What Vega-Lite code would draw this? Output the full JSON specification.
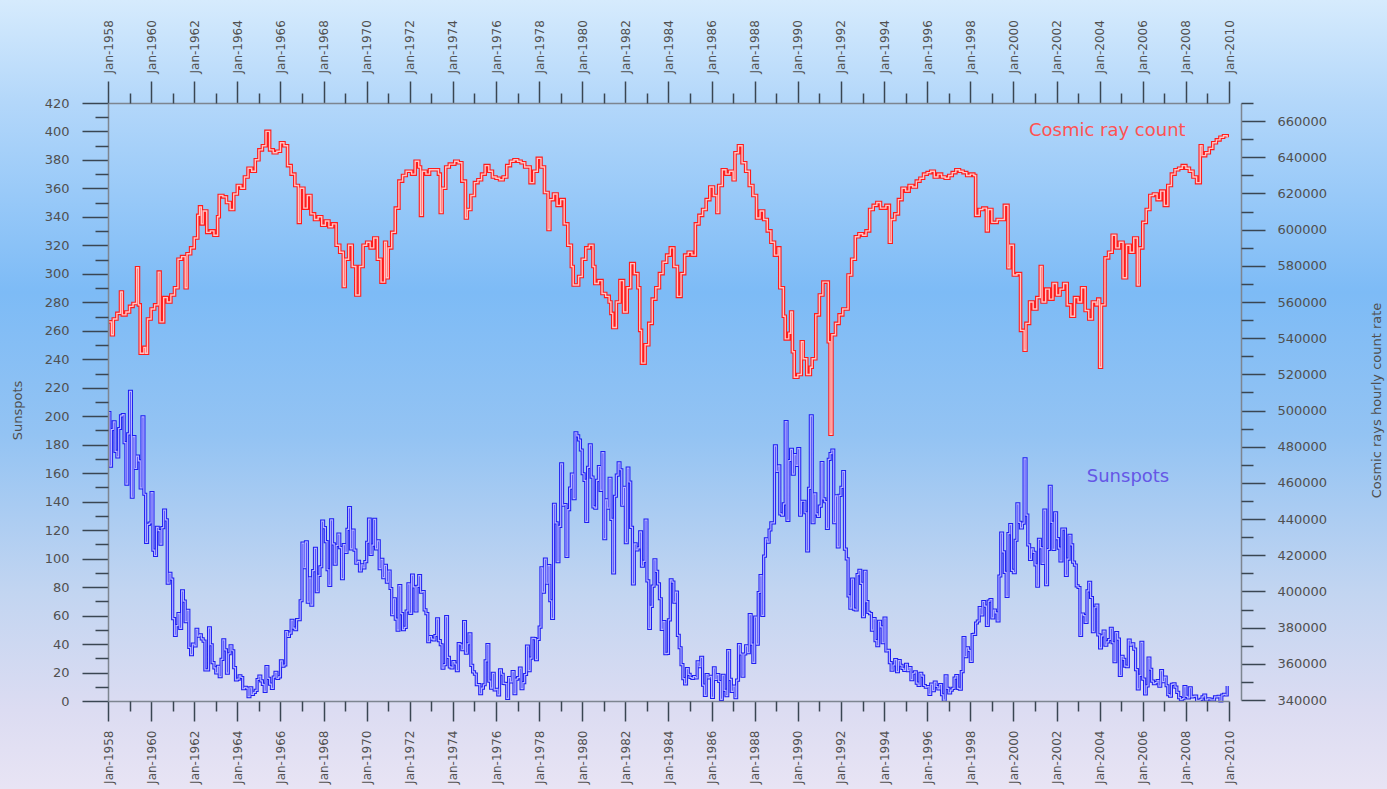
{
  "$schema": "https://vega.github.io/schema/vega-lite/v6.json",
  "width": 1387,
  "height": 789,
  "autosize": {"type": "none"},
  "padding": 0,
  "background": "#e6e4f4",
  "config": {
    "view": {"stroke": null},
    "font": "DejaVu Sans",
    "axis": {
      "zindex": 2,
      "grid": false,
      "labelFont": "DejaVu Sans",
      "labelColor": "#505050",
      "labelFontSize": 12,
      "tickColor": "#3a4652",
      "tickWidth": 1.5,
      "domainColor": "#7d8590",
      "domainWidth": 1.5,
      "labelOverlap": false,
      "labelFlush": false,
      "labelBound": false,
      "titleFont": "DejaVu Sans",
      "titleFontWeight": "normal",
      "titleColor": "#505050",
      "titleFontSize": 13
    }
  },
  "datasets": {
    "sunspots": [
      {"d":"1958-01","v":202.5},{"d":"1958-02","v":164.9},{"d":"1958-03","v":190.7},{"d":"1958-04","v":196.0},{"d":"1958-05","v":175.3},{"d":"1958-06","v":171.5},{"d":"1958-07","v":191.4},{"d":"1958-08","v":200.2},{"d":"1958-09","v":201.2},{"d":"1958-10","v":181.5},{"d":"1958-11","v":152.3},{"d":"1958-12","v":187.6},
      {"d":"1959-01","v":217.4},{"d":"1959-02","v":143.1},{"d":"1959-03","v":185.7},{"d":"1959-04","v":163.3},{"d":"1959-05","v":172.0},{"d":"1959-06","v":168.7},{"d":"1959-07","v":149.6},{"d":"1959-08","v":199.6},{"d":"1959-09","v":145.2},{"d":"1959-10","v":111.4},{"d":"1959-11","v":124.0},{"d":"1959-12","v":125.0},
      {"d":"1960-01","v":146.3},{"d":"1960-02","v":106.0},{"d":"1960-03","v":102.2},{"d":"1960-04","v":122.0},{"d":"1960-05","v":119.6},{"d":"1960-06","v":110.2},{"d":"1960-07","v":121.7},{"d":"1960-08","v":134.1},{"d":"1960-09","v":127.2},{"d":"1960-10","v":82.8},{"d":"1960-11","v":89.6},{"d":"1960-12","v":85.6},
      {"d":"1961-01","v":57.9},{"d":"1961-02","v":46.1},{"d":"1961-03","v":53.0},{"d":"1961-04","v":61.4},{"d":"1961-05","v":51.0},{"d":"1961-06","v":77.4},{"d":"1961-07","v":70.2},{"d":"1961-08","v":55.8},{"d":"1961-09","v":63.6},{"d":"1961-10","v":37.7},{"d":"1961-11","v":32.6},{"d":"1961-12","v":39.9},
      {"d":"1962-01","v":38.7},{"d":"1962-02","v":50.3},{"d":"1962-03","v":45.6},{"d":"1962-04","v":46.4},{"d":"1962-05","v":43.7},{"d":"1962-06","v":42.0},{"d":"1962-07","v":21.8},{"d":"1962-08","v":21.8},{"d":"1962-09","v":51.3},{"d":"1962-10","v":39.5},{"d":"1962-11","v":26.9},{"d":"1962-12","v":23.2},
      {"d":"1963-01","v":19.8},{"d":"1963-02","v":24.4},{"d":"1963-03","v":17.1},{"d":"1963-04","v":29.3},{"d":"1963-05","v":43.0},{"d":"1963-06","v":35.9},{"d":"1963-07","v":19.6},{"d":"1963-08","v":33.2},{"d":"1963-09","v":38.8},{"d":"1963-10","v":35.3},{"d":"1963-11","v":23.4},{"d":"1963-12","v":14.9},
      {"d":"1964-01","v":15.3},{"d":"1964-02","v":17.7},{"d":"1964-03","v":16.5},{"d":"1964-04","v":8.6},{"d":"1964-05","v":9.5},{"d":"1964-06","v":9.1},{"d":"1964-07","v":3.1},{"d":"1964-08","v":9.3},{"d":"1964-09","v":4.7},{"d":"1964-10","v":6.1},{"d":"1964-11","v":7.4},{"d":"1964-12","v":15.1},
      {"d":"1965-01","v":17.5},{"d":"1965-02","v":14.2},{"d":"1965-03","v":11.7},{"d":"1965-04","v":6.8},{"d":"1965-05","v":24.1},{"d":"1965-06","v":15.9},{"d":"1965-07","v":11.9},{"d":"1965-08","v":8.9},{"d":"1965-09","v":16.8},{"d":"1965-10","v":20.1},{"d":"1965-11","v":15.8},{"d":"1965-12","v":17.0},
      {"d":"1966-01","v":28.2},{"d":"1966-02","v":24.4},{"d":"1966-03","v":25.3},{"d":"1966-04","v":48.7},{"d":"1966-05","v":45.3},{"d":"1966-06","v":47.7},{"d":"1966-07","v":56.7},{"d":"1966-08","v":51.2},{"d":"1966-09","v":50.2},{"d":"1966-10","v":57.2},{"d":"1966-11","v":57.2},{"d":"1966-12","v":70.4},
      {"d":"1967-01","v":110.9},{"d":"1967-02","v":93.6},{"d":"1967-03","v":111.8},{"d":"1967-04","v":69.5},{"d":"1967-05","v":86.5},{"d":"1967-06","v":67.3},{"d":"1967-07","v":91.5},{"d":"1967-08","v":107.2},{"d":"1967-09","v":76.8},{"d":"1967-10","v":88.2},{"d":"1967-11","v":94.3},{"d":"1967-12","v":126.4},
      {"d":"1968-01","v":121.8},{"d":"1968-02","v":111.9},{"d":"1968-03","v":92.2},{"d":"1968-04","v":81.2},{"d":"1968-05","v":127.2},{"d":"1968-06","v":110.3},{"d":"1968-07","v":96.1},{"d":"1968-08","v":109.3},{"d":"1968-09","v":117.2},{"d":"1968-10","v":107.7},{"d":"1968-11","v":86.0},{"d":"1968-12","v":109.8},
      {"d":"1969-01","v":104.4},{"d":"1969-02","v":120.5},{"d":"1969-03","v":135.8},{"d":"1969-04","v":106.8},{"d":"1969-05","v":120.0},{"d":"1969-06","v":106.0},{"d":"1969-07","v":96.8},{"d":"1969-08","v":98.0},{"d":"1969-09","v":91.3},{"d":"1969-10","v":95.7},{"d":"1969-11","v":93.5},{"d":"1969-12","v":97.9},
      {"d":"1970-01","v":111.5},{"d":"1970-02","v":127.8},{"d":"1970-03","v":102.9},{"d":"1970-04","v":109.5},{"d":"1970-05","v":127.5},{"d":"1970-06","v":106.8},{"d":"1970-07","v":112.5},{"d":"1970-08","v":93.0},{"d":"1970-09","v":99.5},{"d":"1970-10","v":86.6},{"d":"1970-11","v":95.2},{"d":"1970-12","v":83.5},
      {"d":"1971-01","v":91.3},{"d":"1971-02","v":79.0},{"d":"1971-03","v":60.7},{"d":"1971-04","v":71.8},{"d":"1971-05","v":57.5},{"d":"1971-06","v":49.8},{"d":"1971-07","v":81.0},{"d":"1971-08","v":61.4},{"d":"1971-09","v":50.2},{"d":"1971-10","v":51.7},{"d":"1971-11","v":63.2},{"d":"1971-12","v":82.2},
      {"d":"1972-01","v":61.5},{"d":"1972-02","v":88.4},{"d":"1972-03","v":80.1},{"d":"1972-04","v":63.2},{"d":"1972-05","v":80.5},{"d":"1972-06","v":88.0},{"d":"1972-07","v":76.5},{"d":"1972-08","v":76.8},{"d":"1972-09","v":64.0},{"d":"1972-10","v":61.3},{"d":"1972-11","v":41.6},{"d":"1972-12","v":45.3},
      {"d":"1973-01","v":43.4},{"d":"1973-02","v":42.9},{"d":"1973-03","v":46.0},{"d":"1973-04","v":57.7},{"d":"1973-05","v":42.4},{"d":"1973-06","v":39.5},{"d":"1973-07","v":23.1},{"d":"1973-08","v":25.6},{"d":"1973-09","v":59.3},{"d":"1973-10","v":30.7},{"d":"1973-11","v":23.9},{"d":"1973-12","v":23.3},
      {"d":"1974-01","v":27.6},{"d":"1974-02","v":26.0},{"d":"1974-03","v":21.3},{"d":"1974-04","v":40.3},{"d":"1974-05","v":39.5},{"d":"1974-06","v":36.0},{"d":"1974-07","v":55.8},{"d":"1974-08","v":33.6},{"d":"1974-09","v":40.2},{"d":"1974-10","v":47.1},{"d":"1974-11","v":25.0},{"d":"1974-12","v":20.5},
      {"d":"1975-01","v":18.9},{"d":"1975-02","v":11.5},{"d":"1975-03","v":11.5},{"d":"1975-04","v":5.1},{"d":"1975-05","v":9.0},{"d":"1975-06","v":11.4},{"d":"1975-07","v":28.2},{"d":"1975-08","v":39.7},{"d":"1975-09","v":13.9},{"d":"1975-10","v":9.1},{"d":"1975-11","v":19.4},{"d":"1975-12","v":7.8},
      {"d":"1976-01","v":8.1},{"d":"1976-02","v":4.3},{"d":"1976-03","v":21.9},{"d":"1976-04","v":18.8},{"d":"1976-05","v":12.4},{"d":"1976-06","v":12.2},{"d":"1976-07","v":1.9},{"d":"1976-08","v":16.4},{"d":"1976-09","v":13.5},{"d":"1976-10","v":20.6},{"d":"1976-11","v":5.2},{"d":"1976-12","v":15.3},
      {"d":"1977-01","v":16.4},{"d":"1977-02","v":23.1},{"d":"1977-03","v":8.7},{"d":"1977-04","v":12.9},{"d":"1977-05","v":18.6},{"d":"1977-06","v":38.5},{"d":"1977-07","v":21.4},{"d":"1977-08","v":30.1},{"d":"1977-09","v":44.0},{"d":"1977-10","v":43.8},{"d":"1977-11","v":29.1},{"d":"1977-12","v":43.2},
      {"d":"1978-01","v":51.9},{"d":"1978-02","v":93.6},{"d":"1978-03","v":76.5},{"d":"1978-04","v":99.7},{"d":"1978-05","v":82.7},{"d":"1978-06","v":95.1},{"d":"1978-07","v":70.4},{"d":"1978-08","v":58.1},{"d":"1978-09","v":138.2},{"d":"1978-10","v":125.1},{"d":"1978-11","v":97.9},{"d":"1978-12","v":122.7},
      {"d":"1979-01","v":166.6},{"d":"1979-02","v":137.5},{"d":"1979-03","v":138.0},{"d":"1979-04","v":101.5},{"d":"1979-05","v":134.4},{"d":"1979-06","v":149.5},{"d":"1979-07","v":159.4},{"d":"1979-08","v":142.2},{"d":"1979-09","v":188.4},{"d":"1979-10","v":186.2},{"d":"1979-11","v":183.3},{"d":"1979-12","v":176.3},
      {"d":"1980-01","v":159.6},{"d":"1980-02","v":155.0},{"d":"1980-03","v":126.2},{"d":"1980-04","v":164.1},{"d":"1980-05","v":179.9},{"d":"1980-06","v":157.3},{"d":"1980-07","v":136.3},{"d":"1980-08","v":135.4},{"d":"1980-09","v":155.0},{"d":"1980-10","v":164.7},{"d":"1980-11","v":147.9},{"d":"1980-12","v":174.4},
      {"d":"1981-01","v":114.0},{"d":"1981-02","v":141.3},{"d":"1981-03","v":135.5},{"d":"1981-04","v":156.4},{"d":"1981-05","v":127.5},{"d":"1981-06","v":90.0},{"d":"1981-07","v":143.8},{"d":"1981-08","v":158.7},{"d":"1981-09","v":167.3},{"d":"1981-10","v":162.4},{"d":"1981-11","v":137.5},{"d":"1981-12","v":150.1},
      {"d":"1982-01","v":111.2},{"d":"1982-02","v":163.6},{"d":"1982-03","v":153.8},{"d":"1982-04","v":122.0},{"d":"1982-05","v":82.2},{"d":"1982-06","v":110.4},{"d":"1982-07","v":106.1},{"d":"1982-08","v":107.6},{"d":"1982-09","v":118.8},{"d":"1982-10","v":94.7},{"d":"1982-11","v":98.1},{"d":"1982-12","v":127.0},
      {"d":"1983-01","v":84.3},{"d":"1983-02","v":51.0},{"d":"1983-03","v":66.5},{"d":"1983-04","v":80.7},{"d":"1983-05","v":99.2},{"d":"1983-06","v":91.1},{"d":"1983-07","v":82.2},{"d":"1983-08","v":71.8},{"d":"1983-09","v":50.3},{"d":"1983-10","v":55.8},{"d":"1983-11","v":33.3},{"d":"1983-12","v":33.4},
      {"d":"1984-01","v":57.0},{"d":"1984-02","v":85.1},{"d":"1984-03","v":83.5},{"d":"1984-04","v":69.4},{"d":"1984-05","v":76.4},{"d":"1984-06","v":46.1},{"d":"1984-07","v":37.4},{"d":"1984-08","v":25.5},{"d":"1984-09","v":15.7},{"d":"1984-10","v":12.0},{"d":"1984-11","v":22.8},{"d":"1984-12","v":18.7},
      {"d":"1985-01","v":16.5},{"d":"1985-02","v":15.9},{"d":"1985-03","v":17.2},{"d":"1985-04","v":16.2},{"d":"1985-05","v":27.5},{"d":"1985-06","v":24.2},{"d":"1985-07","v":30.7},{"d":"1985-08","v":11.1},{"d":"1985-09","v":3.9},{"d":"1985-10","v":18.6},{"d":"1985-11","v":16.2},{"d":"1985-12","v":17.3},
      {"d":"1986-01","v":2.5},{"d":"1986-02","v":23.2},{"d":"1986-03","v":15.1},{"d":"1986-04","v":18.5},{"d":"1986-05","v":13.7},{"d":"1986-06","v":1.1},{"d":"1986-07","v":18.1},{"d":"1986-08","v":7.4},{"d":"1986-09","v":3.8},{"d":"1986-10","v":35.4},{"d":"1986-11","v":15.2},{"d":"1986-12","v":6.8},
      {"d":"1987-01","v":10.4},{"d":"1987-02","v":2.4},{"d":"1987-03","v":14.7},{"d":"1987-04","v":39.6},{"d":"1987-05","v":33.0},{"d":"1987-06","v":17.4},{"d":"1987-07","v":33.0},{"d":"1987-08","v":38.7},{"d":"1987-09","v":33.9},{"d":"1987-10","v":60.6},{"d":"1987-11","v":39.9},{"d":"1987-12","v":27.1},
      {"d":"1988-01","v":59.0},{"d":"1988-02","v":40.0},{"d":"1988-03","v":76.2},{"d":"1988-04","v":88.0},{"d":"1988-05","v":60.1},{"d":"1988-06","v":101.8},{"d":"1988-07","v":113.8},{"d":"1988-08","v":111.6},{"d":"1988-09","v":120.1},{"d":"1988-10","v":125.1},{"d":"1988-11","v":125.1},{"d":"1988-12","v":179.2},
      {"d":"1989-01","v":161.3},{"d":"1989-02","v":165.1},{"d":"1989-03","v":131.4},{"d":"1989-04","v":130.6},{"d":"1989-05","v":138.5},{"d":"1989-06","v":196.2},{"d":"1989-07","v":126.9},{"d":"1989-08","v":168.9},{"d":"1989-09","v":176.7},{"d":"1989-10","v":159.4},{"d":"1989-11","v":173.0},{"d":"1989-12","v":165.5},
      {"d":"1990-01","v":177.3},{"d":"1990-02","v":130.5},{"d":"1990-03","v":140.3},{"d":"1990-04","v":140.3},{"d":"1990-05","v":132.2},{"d":"1990-06","v":105.4},{"d":"1990-07","v":149.4},{"d":"1990-08","v":200.3},{"d":"1990-09","v":125.2},{"d":"1990-10","v":145.5},{"d":"1990-11","v":131.4},{"d":"1990-12","v":129.7},
      {"d":"1991-01","v":136.9},{"d":"1991-02","v":167.5},{"d":"1991-03","v":141.9},{"d":"1991-04","v":140.0},{"d":"1991-05","v":121.3},{"d":"1991-06","v":169.7},{"d":"1991-07","v":173.7},{"d":"1991-08","v":176.3},{"d":"1991-09","v":125.3},{"d":"1991-10","v":144.1},{"d":"1991-11","v":108.2},{"d":"1991-12","v":144.4},
      {"d":"1992-01","v":150.0},{"d":"1992-02","v":161.1},{"d":"1992-03","v":106.7},{"d":"1992-04","v":99.8},{"d":"1992-05","v":73.8},{"d":"1992-06","v":65.2},{"d":"1992-07","v":85.7},{"d":"1992-08","v":64.5},{"d":"1992-09","v":63.9},{"d":"1992-10","v":88.7},{"d":"1992-11","v":91.8},{"d":"1992-12","v":82.6},
      {"d":"1993-01","v":59.3},{"d":"1993-02","v":91.0},{"d":"1993-03","v":69.8},{"d":"1993-04","v":62.2},{"d":"1993-05","v":61.3},{"d":"1993-06","v":49.8},{"d":"1993-07","v":57.9},{"d":"1993-08","v":42.4},{"d":"1993-09","v":38.8},{"d":"1993-10","v":56.0},{"d":"1993-11","v":52.0},{"d":"1993-12","v":40.9},
      {"d":"1994-01","v":58.3},{"d":"1994-02","v":35.1},{"d":"1994-03","v":35.6},{"d":"1994-04","v":26.9},{"d":"1994-05","v":21.6},{"d":"1994-06","v":25.3},{"d":"1994-07","v":29.0},{"d":"1994-08","v":20.6},{"d":"1994-09","v":28.4},{"d":"1994-10","v":25.1},{"d":"1994-11","v":22.9},{"d":"1994-12","v":21.5},
      {"d":"1995-01","v":25.8},{"d":"1995-02","v":21.4},{"d":"1995-03","v":23.5},{"d":"1995-04","v":15.0},{"d":"1995-05","v":19.5},{"d":"1995-06","v":20.4},{"d":"1995-07","v":12.6},{"d":"1995-08","v":11.0},{"d":"1995-09","v":19.4},{"d":"1995-10","v":17.5},{"d":"1995-11","v":10.9},{"d":"1995-12","v":9.8},
      {"d":"1996-01","v":10.2},{"d":"1996-02","v":4.6},{"d":"1996-03","v":11.9},{"d":"1996-04","v":7.3},{"d":"1996-05","v":13.2},{"d":"1996-06","v":10.2},{"d":"1996-07","v":8.5},{"d":"1996-08","v":11.6},{"d":"1996-09","v":4.4},{"d":"1996-10","v":0.6},{"d":"1996-11","v":17.6},{"d":"1996-12","v":8.8},
      {"d":"1997-01","v":5.7},{"d":"1997-02","v":7.6},{"d":"1997-03","v":8.8},{"d":"1997-04","v":16.1},{"d":"1997-05","v":17.9},{"d":"1997-06","v":8.8},{"d":"1997-07","v":8.4},{"d":"1997-08","v":20.7},{"d":"1997-09","v":44.6},{"d":"1997-10","v":31.1},{"d":"1997-11","v":37.3},{"d":"1997-12","v":35.6},
      {"d":"1998-01","v":27.8},{"d":"1998-02","v":46.7},{"d":"1998-03","v":46.8},{"d":"1998-04","v":54.8},{"d":"1998-05","v":56.2},{"d":"1998-06","v":65.6},{"d":"1998-07","v":60.5},{"d":"1998-08","v":69.9},{"d":"1998-09","v":66.7},{"d":"1998-10","v":53.1},{"d":"1998-11","v":70.1},{"d":"1998-12","v":71.3},
      {"d":"1999-01","v":58.4},{"d":"1999-02","v":63.9},{"d":"1999-03","v":61.9},{"d":"1999-04","v":56.2},{"d":"1999-05","v":87.8},{"d":"1999-06","v":118.0},{"d":"1999-07","v":104.7},{"d":"1999-08","v":90.4},{"d":"1999-09","v":73.5},{"d":"1999-10","v":117.6},{"d":"1999-11","v":123.9},{"d":"1999-12","v":91.8},
      {"d":"2000-01","v":90.1},{"d":"2000-02","v":112.9},{"d":"2000-03","v":138.5},{"d":"2000-04","v":125.5},{"d":"2000-05","v":121.6},{"d":"2000-06","v":124.9},{"d":"2000-07","v":170.1},{"d":"2000-08","v":130.5},{"d":"2000-09","v":109.7},{"d":"2000-10","v":99.4},{"d":"2000-11","v":106.8},{"d":"2000-12","v":104.4},
      {"d":"2001-01","v":95.6},{"d":"2001-02","v":80.6},{"d":"2001-03","v":113.5},{"d":"2001-04","v":107.7},{"d":"2001-05","v":96.6},{"d":"2001-06","v":134.0},{"d":"2001-07","v":81.8},{"d":"2001-08","v":106.4},{"d":"2001-09","v":150.7},{"d":"2001-10","v":125.5},{"d":"2001-11","v":106.5},{"d":"2001-12","v":132.2},
      {"d":"2002-01","v":114.1},{"d":"2002-02","v":107.4},{"d":"2002-03","v":98.4},{"d":"2002-04","v":120.7},{"d":"2002-05","v":120.8},{"d":"2002-06","v":88.3},{"d":"2002-07","v":99.6},{"d":"2002-08","v":116.4},{"d":"2002-09","v":109.6},{"d":"2002-10","v":97.5},{"d":"2002-11","v":95.5},{"d":"2002-12","v":80.8},
      {"d":"2003-01","v":79.7},{"d":"2003-02","v":46.0},{"d":"2003-03","v":61.1},{"d":"2003-04","v":60.0},{"d":"2003-05","v":55.2},{"d":"2003-06","v":77.4},{"d":"2003-07","v":83.3},{"d":"2003-08","v":72.7},{"d":"2003-09","v":48.7},{"d":"2003-10","v":65.5},{"d":"2003-11","v":67.3},{"d":"2003-12","v":46.5},
      {"d":"2004-01","v":37.3},{"d":"2004-02","v":45.8},{"d":"2004-03","v":49.1},{"d":"2004-04","v":39.3},{"d":"2004-05","v":41.5},{"d":"2004-06","v":43.2},{"d":"2004-07","v":51.1},{"d":"2004-08","v":40.9},{"d":"2004-09","v":27.7},{"d":"2004-10","v":48.0},{"d":"2004-11","v":43.5},{"d":"2004-12","v":17.9},
      {"d":"2005-01","v":31.3},{"d":"2005-02","v":29.2},{"d":"2005-03","v":24.5},{"d":"2005-04","v":24.2},{"d":"2005-05","v":42.7},{"d":"2005-06","v":39.3},{"d":"2005-07","v":40.1},{"d":"2005-08","v":36.4},{"d":"2005-09","v":22.1},{"d":"2005-10","v":8.5},{"d":"2005-11","v":18.0},{"d":"2005-12","v":41.2},
      {"d":"2006-01","v":15.3},{"d":"2006-02","v":4.9},{"d":"2006-03","v":10.6},{"d":"2006-04","v":30.2},{"d":"2006-05","v":22.3},{"d":"2006-06","v":13.9},{"d":"2006-07","v":12.2},{"d":"2006-08","v":12.9},{"d":"2006-09","v":14.4},{"d":"2006-10","v":10.5},{"d":"2006-11","v":21.4},{"d":"2006-12","v":13.6},
      {"d":"2007-01","v":16.8},{"d":"2007-02","v":10.7},{"d":"2007-03","v":4.5},{"d":"2007-04","v":3.4},{"d":"2007-05","v":11.7},{"d":"2007-06","v":12.1},{"d":"2007-07","v":9.7},{"d":"2007-08","v":6.0},{"d":"2007-09","v":2.4},{"d":"2007-10","v":0.9},{"d":"2007-11","v":1.7},{"d":"2007-12","v":10.1},
      {"d":"2008-01","v":3.3},{"d":"2008-02","v":2.1},{"d":"2008-03","v":9.3},{"d":"2008-04","v":2.9},{"d":"2008-05","v":3.2},{"d":"2008-06","v":3.4},{"d":"2008-07","v":0.5},{"d":"2008-08","v":0.5},{"d":"2008-09","v":1.1},{"d":"2008-10","v":2.9},{"d":"2008-11","v":4.1},{"d":"2008-12","v":0.8},
      {"d":"2009-01","v":1.5},{"d":"2009-02","v":1.4},{"d":"2009-03","v":0.7},{"d":"2009-04","v":0.8},{"d":"2009-05","v":2.9},{"d":"2009-06","v":2.9},{"d":"2009-07","v":3.2},{"d":"2009-08","v":0.0},{"d":"2009-09","v":4.2},{"d":"2009-10","v":4.6},{"d":"2009-11","v":4.2},{"d":"2009-12","v":10.6}
    ],
    "cosmic": [
      {"d":"1958-01","v":549000},{"d":"1958-03","v":541900},{"d":"1958-04","v":550600},{"d":"1958-06","v":553700},{"d":"1958-08","v":565500},{"d":"1958-09","v":552900},{"d":"1958-11","v":554500},
      {"d":"1959-01","v":557600},{"d":"1959-03","v":559200},{"d":"1959-05","v":578900},{"d":"1959-06","v":558400},{"d":"1959-07","v":531700},{"d":"1959-09","v":534900},{"d":"1959-10","v":531700},{"d":"1959-11","v":550600},
      {"d":"1960-01","v":556100},{"d":"1960-03","v":558400},{"d":"1960-05","v":576500},{"d":"1960-06","v":549000},{"d":"1960-08","v":562400},{"d":"1960-10","v":560000},{"d":"1960-12","v":563900},
      {"d":"1961-02","v":567900},{"d":"1961-04","v":583600},{"d":"1961-06","v":585100},{"d":"1961-08","v":567900},{"d":"1961-09","v":586700},{"d":"1961-11","v":589900},
      {"d":"1962-01","v":595400},{"d":"1962-03","v":607900},{"d":"1962-04","v":612600},{"d":"1962-05","v":603200},{"d":"1962-06","v":610300},{"d":"1962-08","v":598500},{"d":"1962-10","v":599300},{"d":"1962-12","v":596900},
      {"d":"1963-02","v":607100},{"d":"1963-03","v":618900},{"d":"1963-05","v":618100},{"d":"1963-07","v":615000},{"d":"1963-09","v":611100},{"d":"1963-11","v":619700},
      {"d":"1964-01","v":624400},{"d":"1964-03","v":622900},{"d":"1964-05","v":629100},{"d":"1964-07","v":633900},{"d":"1964-09","v":632300},{"d":"1964-11","v":638600},
      {"d":"1965-01","v":644100},{"d":"1965-03","v":646400},{"d":"1965-05","v":654300},{"d":"1965-07","v":644100},{"d":"1965-09","v":642500},{"d":"1965-11","v":643300},
      {"d":"1966-01","v":648000},{"d":"1966-03","v":646400},{"d":"1966-05","v":635400},{"d":"1966-07","v":630700},{"d":"1966-09","v":624400},{"d":"1966-11","v":604000},{"d":"1966-12","v":622900},
      {"d":"1967-02","v":611900},{"d":"1967-04","v":618900},{"d":"1967-06","v":608700},{"d":"1967-08","v":605600},{"d":"1967-10","v":607100},{"d":"1967-12","v":602400},
      {"d":"1968-02","v":604800},{"d":"1968-04","v":601600},{"d":"1968-06","v":603200},{"d":"1968-08","v":591400},{"d":"1968-10","v":587500},{"d":"1968-12","v":568600},
      {"d":"1969-01","v":583600},{"d":"1969-03","v":591400},{"d":"1969-05","v":579600},{"d":"1969-07","v":563900},{"d":"1969-09","v":579600},{"d":"1969-11","v":591400},
      {"d":"1970-01","v":593000},{"d":"1970-03","v":589900},{"d":"1970-05","v":595400},{"d":"1970-07","v":583600},{"d":"1970-09","v":571000},{"d":"1970-11","v":593000},{"d":"1970-12","v":573400},
      {"d":"1971-01","v":589900},{"d":"1971-03","v":598500},{"d":"1971-05","v":611900},{"d":"1971-07","v":626800},{"d":"1971-09","v":629900},{"d":"1971-11","v":632300},
      {"d":"1972-02","v":630700},{"d":"1972-04","v":637800},{"d":"1972-06","v":634600},{"d":"1972-07","v":607900},{"d":"1972-08","v":632300},{"d":"1972-10","v":630700},{"d":"1972-12","v":633100},
      {"d":"1973-03","v":633100},{"d":"1973-05","v":630700},{"d":"1973-06","v":609500},{"d":"1973-07","v":622900},{"d":"1973-09","v":634600},{"d":"1973-11","v":636200},
      {"d":"1974-02","v":637800},{"d":"1974-04","v":637000},{"d":"1974-06","v":626800},{"d":"1974-08","v":606400},{"d":"1974-09","v":611100},{"d":"1974-11","v":618900},
      {"d":"1975-01","v":626000},{"d":"1975-03","v":627600},{"d":"1975-05","v":630700},{"d":"1975-07","v":635400},{"d":"1975-09","v":632300},{"d":"1975-11","v":629100},
      {"d":"1976-01","v":628400},{"d":"1976-03","v":627600},{"d":"1976-05","v":629100},{"d":"1976-07","v":635400},{"d":"1976-09","v":637800},{"d":"1976-11","v":638600},
      {"d":"1977-01","v":637800},{"d":"1977-03","v":637000},{"d":"1977-05","v":634600},{"d":"1977-08","v":626000},{"d":"1977-10","v":632300},{"d":"1977-12","v":639400},
      {"d":"1978-02","v":634600},{"d":"1978-04","v":620500},{"d":"1978-06","v":600100},{"d":"1978-07","v":616600},{"d":"1978-09","v":619700},{"d":"1978-11","v":613400},
      {"d":"1979-01","v":616600},{"d":"1979-03","v":603200},{"d":"1979-05","v":591400},{"d":"1979-07","v":579600},{"d":"1979-08","v":569400},{"d":"1979-11","v":574100},
      {"d":"1980-01","v":583600},{"d":"1980-03","v":589900},{"d":"1980-05","v":591400},{"d":"1980-07","v":579600},{"d":"1980-08","v":570200},{"d":"1980-10","v":571800},{"d":"1980-12","v":564700},
      {"d":"1981-02","v":563100},{"d":"1981-04","v":560000},{"d":"1981-05","v":553700},{"d":"1981-06","v":545900},{"d":"1981-08","v":560000},{"d":"1981-10","v":571800},{"d":"1981-12","v":554500},
      {"d":"1982-02","v":567900},{"d":"1982-04","v":581200},{"d":"1982-06","v":575700},{"d":"1982-08","v":567900},{"d":"1982-09","v":544300},{"d":"1982-10","v":526200},{"d":"1982-12","v":536400},
      {"d":"1983-02","v":548200},{"d":"1983-04","v":561600},{"d":"1983-06","v":567900},{"d":"1983-08","v":575700},{"d":"1983-10","v":582000},{"d":"1983-12","v":585900},
      {"d":"1984-02","v":589900},{"d":"1984-04","v":579600},{"d":"1984-06","v":563100},{"d":"1984-08","v":575700},{"d":"1984-10","v":585900},{"d":"1984-12","v":587500},
      {"d":"1985-02","v":585900},{"d":"1985-04","v":603200},{"d":"1985-06","v":607900},{"d":"1985-08","v":611100},{"d":"1985-10","v":616600},{"d":"1985-12","v":623600},
      {"d":"1986-02","v":618900},{"d":"1986-04","v":609500},{"d":"1986-05","v":624400},{"d":"1986-07","v":633100},{"d":"1986-09","v":630700},{"d":"1986-11","v":632300},
      {"d":"1987-01","v":627600},{"d":"1987-02","v":642500},{"d":"1987-04","v":646400},{"d":"1987-06","v":637000},{"d":"1987-08","v":632300},{"d":"1987-10","v":624400},{"d":"1987-12","v":618900},
      {"d":"1988-02","v":606400},{"d":"1988-04","v":610300},{"d":"1988-06","v":605600},{"d":"1988-08","v":599300},{"d":"1988-10","v":593000},{"d":"1988-12","v":585900},
      {"d":"1989-02","v":589900},{"d":"1989-03","v":567900},{"d":"1989-05","v":552100},{"d":"1989-06","v":539600},{"d":"1989-08","v":542700},{"d":"1989-09","v":554500},{"d":"1989-10","v":532500},{"d":"1989-11","v":518400},
      {"d":"1990-01","v":519900},{"d":"1990-03","v":538000},{"d":"1990-04","v":528600},{"d":"1990-06","v":519900},{"d":"1990-08","v":523900},{"d":"1990-09","v":528600},{"d":"1990-11","v":552900},
      {"d":"1991-01","v":563900},{"d":"1991-03","v":571000},{"d":"1991-06","v":538000},{"d":"1991-07","v":486900},{"d":"1991-08","v":541900},{"d":"1991-10","v":548200},{"d":"1991-12","v":552900},
      {"d":"1992-02","v":556100},{"d":"1992-05","v":574900},{"d":"1992-07","v":583600},{"d":"1992-09","v":596100},{"d":"1992-11","v":597700},
      {"d":"1993-01","v":596900},{"d":"1993-03","v":599300},{"d":"1993-05","v":611100},{"d":"1993-07","v":613400},{"d":"1993-09","v":615000},{"d":"1993-11","v":611900},
      {"d":"1994-02","v":613400},{"d":"1994-04","v":593000},{"d":"1994-05","v":605600},{"d":"1994-07","v":608700},{"d":"1994-09","v":616600},{"d":"1994-11","v":622900},
      {"d":"1995-01","v":621300},{"d":"1995-03","v":624400},{"d":"1995-05","v":623600},{"d":"1995-07","v":626800},{"d":"1995-09","v":628400},{"d":"1995-11","v":630700},
      {"d":"1996-01","v":631500},{"d":"1996-03","v":632300},{"d":"1996-05","v":629100},{"d":"1996-07","v":630700},{"d":"1996-09","v":629100},{"d":"1996-11","v":628400},
      {"d":"1997-01","v":629900},{"d":"1997-03","v":631500},{"d":"1997-05","v":633100},{"d":"1997-07","v":632300},{"d":"1997-09","v":631500},{"d":"1997-11","v":629900},
      {"d":"1998-01","v":630700},{"d":"1998-03","v":629900},{"d":"1998-04","v":607900},{"d":"1998-06","v":611100},{"d":"1998-08","v":611900},{"d":"1998-10","v":599300},{"d":"1998-11","v":611100},
      {"d":"1999-01","v":604000},{"d":"1999-04","v":605600},{"d":"1999-08","v":613400},{"d":"1999-10","v":578900},{"d":"1999-11","v":591400},
      {"d":"2000-01","v":574900},{"d":"2000-03","v":575700},{"d":"2000-05","v":544300},{"d":"2000-07","v":533300},{"d":"2000-08","v":548200},{"d":"2000-10","v":560000},{"d":"2000-12","v":556100},
      {"d":"2001-02","v":562400},{"d":"2001-04","v":579600},{"d":"2001-05","v":560000},{"d":"2001-07","v":567100},{"d":"2001-09","v":561600},{"d":"2001-11","v":570200},
      {"d":"2002-01","v":563900},{"d":"2002-03","v":567100},{"d":"2002-05","v":570200},{"d":"2002-07","v":558400},{"d":"2002-09","v":552100},{"d":"2002-11","v":562400},
      {"d":"2003-01","v":560000},{"d":"2003-03","v":567900},{"d":"2003-05","v":555300},{"d":"2003-07","v":550600},{"d":"2003-09","v":560000},{"d":"2003-11","v":558400},{"d":"2003-12","v":561600},
      {"d":"2004-01","v":523900},{"d":"2004-02","v":558400},{"d":"2004-04","v":584400},{"d":"2004-06","v":587500},{"d":"2004-08","v":596900},{"d":"2004-10","v":589900},{"d":"2004-12","v":593000},
      {"d":"2005-02","v":573400},{"d":"2005-04","v":591400},{"d":"2005-06","v":587500},{"d":"2005-08","v":595400},{"d":"2005-10","v":569400},{"d":"2005-11","v":589900},
      {"d":"2006-01","v":604000},{"d":"2006-03","v":611100},{"d":"2006-05","v":618900},{"d":"2006-07","v":619700},{"d":"2006-09","v":616600},{"d":"2006-11","v":621300},
      {"d":"2007-01","v":613400},{"d":"2007-03","v":624400},{"d":"2007-05","v":630700},{"d":"2007-07","v":633100},{"d":"2007-09","v":633900},{"d":"2007-11","v":635400},
      {"d":"2008-01","v":633900},{"d":"2008-03","v":632300},{"d":"2008-05","v":629100},{"d":"2008-07","v":626000},{"d":"2008-09","v":646400},{"d":"2008-10","v":640900},{"d":"2008-12","v":642500},
      {"d":"2009-02","v":644900},{"d":"2009-04","v":648000},{"d":"2009-06","v":649600},{"d":"2009-08","v":651100},{"d":"2009-10","v":651900},{"d":"2009-12","v":651100}
    ]
  },
  "resolve": {"scale": {"y": "independent"}, "axis": {"x": "independent", "y": "independent"}},
  "layer": [
    {
      "description": "window-wide backdrop: pale sky blue at the top, deeper blue across the upper middle, lavender at the bottom",
      "data": {"values": [{}]},
      "mark": {
        "type": "rect",
        "color": {
          "gradient": "linear", "x1": 0, "y1": 0, "x2": 0, "y2": 1,
          "stops": [
            {"offset": 0, "color": "#d6ebfd"},
            {"offset": 0.13, "color": "#b3d7fa"},
            {"offset": 0.37, "color": "#7dbbf6"},
            {"offset": 0.55, "color": "#93c3f3"},
            {"offset": 0.75, "color": "#c2d5f1"},
            {"offset": 0.9, "color": "#dcdcf2"},
            {"offset": 1, "color": "#e8e4f4"}
          ]
        }
      },
      "encoding": {}
    },
    {
      "description": "cosmic ray count, outer red stroke; carries the labelled top time axis and the labelled right-hand axis",
      "data": {"name": "cosmic"},
      "mark": {"type": "line", "interpolate": "step-after", "color": "#ff1c1c", "strokeWidth": 3.6},
      "encoding": {
        "x": {
          "field": "d", "type": "temporal",
          "scale": {"domain": [{"year": 1958}, {"year": 2010}], "range": [108, 1229]},
          "axis": {
            "orient": "top", "offset": -103, "title": null, "zindex": 2,
            "values": [{"year":1958},{"year":1960},{"year":1962},{"year":1964},{"year":1966},{"year":1968},{"year":1970},{"year":1972},{"year":1974},{"year":1976},{"year":1978},{"year":1980},{"year":1982},{"year":1984},{"year":1986},{"year":1988},{"year":1990},{"year":1992},{"year":1994},{"year":1996},{"year":1998},{"year":2000},{"year":2002},{"year":2004},{"year":2006},{"year":2008},{"year":2010}],
            "format": "%b-%Y",
            "labelAngle": -90, "labelAlign": "left", "labelBaseline": "middle",
            "labelPadding": 8, "tickSize": 22
          }
        },
        "y": {
          "field": "v", "type": "quantitative",
          "scale": {"domain": [340000, 670000], "range": [700, 103], "zero": false, "nice": false},
          "axis": {
            "orient": "right", "offset": -146, "zindex": 2,
            "values": [340000,360000,380000,400000,420000,440000,460000,480000,500000,520000,540000,560000,580000,600000,620000,640000,660000],
            "format": "d",
            "labelAlign": "left", "labelBaseline": "middle", "labelPadding": 12, "labelFontSize": 13,
            "tickSize": 24,
            "title": "Cosmic rays hourly count rate",
            "titleAngle": -90, "titleAlign": "center", "titleBaseline": "middle",
            "titleX": 135, "titleY": 400
          }
        }
      }
    },
    {
      "description": "cosmic ray count, pale inner stroke; carries the short in-between ticks of the top and right axes",
      "data": {"name": "cosmic"},
      "mark": {"type": "line", "interpolate": "step-after", "color": "#ffc4c4", "strokeWidth": 1.4},
      "encoding": {
        "x": {
          "field": "d", "type": "temporal",
          "scale": {"domain": [{"year": 1958}, {"year": 2010}], "range": [108, 1229]},
          "axis": {
            "orient": "top", "offset": -103, "title": null, "zindex": 2, "labels": false, "domain": false, "tickSize": 10,
            "values": [{"year":1959},{"year":1961},{"year":1963},{"year":1965},{"year":1967},{"year":1969},{"year":1971},{"year":1973},{"year":1975},{"year":1977},{"year":1979},{"year":1981},{"year":1983},{"year":1985},{"year":1987},{"year":1989},{"year":1991},{"year":1993},{"year":1995},{"year":1997},{"year":1999},{"year":2001},{"year":2003},{"year":2005},{"year":2007},{"year":2009}]
          }
        },
        "y": {
          "field": "v", "type": "quantitative",
          "scale": {"domain": [340000, 670000], "range": [700, 103], "zero": false, "nice": false},
          "axis": {
            "orient": "right", "offset": -146, "title": null, "zindex": 2, "labels": false, "domain": false, "tickSize": 12,
            "values": [350000,370000,390000,410000,430000,450000,470000,490000,510000,530000,550000,570000,590000,610000,630000,650000,670000]
          }
        }
      }
    },
    {
      "description": "monthly sunspot number, outer blue stroke; carries the labelled bottom time axis and the labelled left-hand axis",
      "data": {"name": "sunspots"},
      "mark": {"type": "line", "interpolate": "step-after", "color": "#1e1ef2", "strokeWidth": 3.2},
      "encoding": {
        "x": {
          "field": "d", "type": "temporal",
          "scale": {"domain": [{"year": 1958}, {"year": 2010}], "range": [108, 1229]},
          "axis": {
            "orient": "bottom", "offset": -88, "title": null, "zindex": 2,
            "values": [{"year":1958},{"year":1960},{"year":1962},{"year":1964},{"year":1966},{"year":1968},{"year":1970},{"year":1972},{"year":1974},{"year":1976},{"year":1978},{"year":1980},{"year":1982},{"year":1984},{"year":1986},{"year":1988},{"year":1990},{"year":1992},{"year":1994},{"year":1996},{"year":1998},{"year":2000},{"year":2002},{"year":2004},{"year":2006},{"year":2008},{"year":2010}],
            "format": "%b-%Y",
            "labelAngle": -90, "labelAlign": "right", "labelBaseline": "middle",
            "labelPadding": 9, "tickSize": 20
          }
        },
        "y": {
          "field": "v", "type": "quantitative",
          "scale": {"domain": [0, 420], "range": [701, 103], "nice": false},
          "axis": {
            "orient": "left", "offset": -108, "zindex": 2,
            "values": [0,20,40,60,80,100,120,140,160,180,200,220,240,260,280,300,320,340,360,380,400,420],
            "labelAlign": "right", "labelBaseline": "middle",
            "labelPadding": 13, "labelFontSize": 13, "tickSize": 26,
            "title": "Sunspots",
            "titleAngle": -90, "titleAlign": "center", "titleBaseline": "middle",
            "titleX": -91, "titleY": 410
          }
        }
      }
    },
    {
      "description": "monthly sunspot number, pale inner stroke; carries the short in-between ticks of the bottom and left axes",
      "data": {"name": "sunspots"},
      "mark": {"type": "line", "interpolate": "step-after", "color": "#b4b4ff", "strokeWidth": 1.2},
      "encoding": {
        "x": {
          "field": "d", "type": "temporal",
          "scale": {"domain": [{"year": 1958}, {"year": 2010}], "range": [108, 1229]},
          "axis": {
            "orient": "bottom", "offset": -88, "title": null, "zindex": 2, "labels": false, "domain": false, "tickSize": 10,
            "values": [{"year":1959},{"year":1961},{"year":1963},{"year":1965},{"year":1967},{"year":1969},{"year":1971},{"year":1973},{"year":1975},{"year":1977},{"year":1979},{"year":1981},{"year":1983},{"year":1985},{"year":1987},{"year":1989},{"year":1991},{"year":1993},{"year":1995},{"year":1997},{"year":1999},{"year":2001},{"year":2003},{"year":2005},{"year":2007},{"year":2009}]
          }
        },
        "y": {
          "field": "v", "type": "quantitative",
          "scale": {"domain": [0, 420], "range": [701, 103], "nice": false},
          "axis": {
            "orient": "left", "offset": -108, "title": null, "zindex": 2, "labels": false, "domain": false, "tickSize": 13,
            "values": [10,30,50,70,90,110,130,150,170,190,210,230,250,270,290,310,330,350,370,390,410]
          }
        }
      }
    },
    {
      "description": "series label for the cosmic ray curve",
      "data": {"values": [{}]},
      "mark": {"type": "text", "align": "left", "baseline": "middle", "font": "DejaVu Sans", "fontSize": 18, "color": "#ff5252"},
      "encoding": {
        "x": {"datum": {"year": 2000, "month": 9, "date": 20}, "type": "temporal", "scale": {"domain": [{"year": 1958}, {"year": 2010}], "range": [108, 1229]}, "axis": null},
        "y": {"datum": 400, "type": "quantitative", "scale": {"domain": [0, 420], "range": [701, 103], "nice": false}, "axis": null},
        "text": {"value": "Cosmic ray count"}
      }
    },
    {
      "description": "series label for the sunspot curve",
      "data": {"values": [{}]},
      "mark": {"type": "text", "align": "left", "baseline": "middle", "font": "DejaVu Sans", "fontSize": 18, "color": "#6557e6"},
      "encoding": {
        "x": {"datum": {"year": 2003, "month": 5, "date": 28}, "type": "temporal", "scale": {"domain": [{"year": 1958}, {"year": 2010}], "range": [108, 1229]}, "axis": null},
        "y": {"datum": 157, "type": "quantitative", "scale": {"domain": [0, 420], "range": [701, 103], "nice": false}, "axis": null},
        "text": {"value": "Sunspots"}
      }
    }
  ]
}
